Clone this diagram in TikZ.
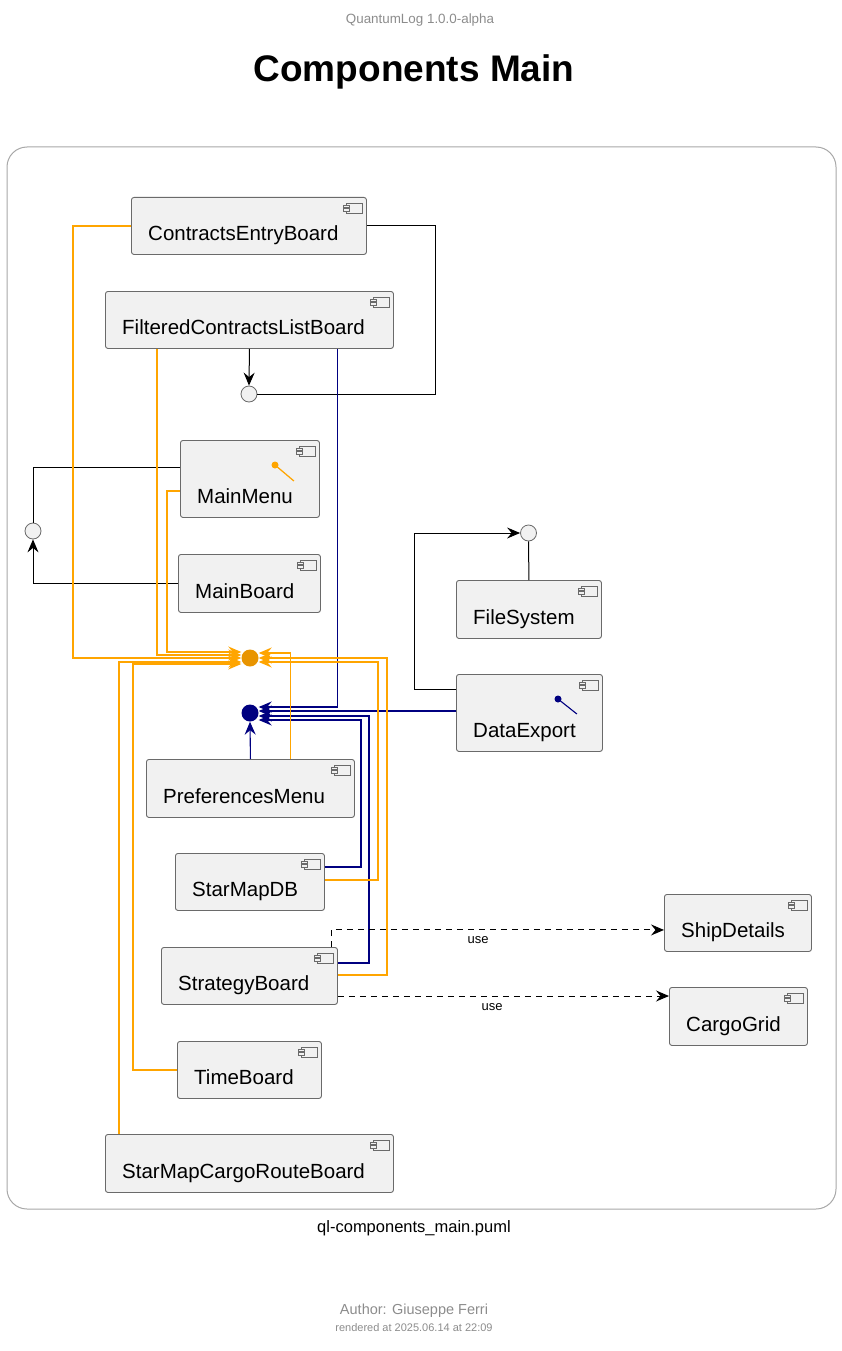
\documentclass[tikz,border=0pt]{standalone}
\usepackage{fontspec}
\setmainfont{Liberation Sans}
\usetikzlibrary{arrows.meta,calc}
\definecolor{boxfill}{HTML}{F1F1F1}
\definecolor{boxdraw}{HTML}{6A6A6A}
\definecolor{framecol}{HTML}{A8A8A8}
\definecolor{orangeline}{HTML}{FFA500}
\definecolor{orangeball}{HTML}{E89400}
\definecolor{navycol}{HTML}{000080}
\definecolor{graytext}{HTML}{8C8C8C}
\tikzset{
  compbox/.style={draw=boxdraw, fill=boxfill, line width=0.9pt, rounded corners=2.5pt, inner sep=0pt},
  comptext/.style={inner sep=0pt, font=\fontsize{20.5}{24}\selectfont},
  iconst/.style={draw=boxdraw, fill=boxfill, line width=0.7pt},
  iface/.style={circle, draw=boxdraw, fill=boxfill, line width=0.8pt, minimum size=16pt, inner sep=0pt},
  ball/.style={circle, minimum size=17pt, inner sep=0pt},
  arr/.style={-{Stealth[length=13pt,width=11pt,inset=4.5pt]}},
  bline/.style={draw=black, line width=1pt},
  nline/.style={draw=navycol, line width=1.1pt},
  oline/.style={draw=orangeline, line width=1.25pt},
  dline/.style={draw=black, line width=1pt, dash pattern=on 6pt off 5pt},
  uselabel/.style={inner sep=0pt, font=\fontsize{13}{15}\selectfont},
}
\newcommand{\qlcomp}[6]{%
  \node[compbox, anchor=north west, minimum width={(#4-#2)*1pt}, minimum height={(#5-#3)*1pt}] (#1) at (#2,#3) {};
  \node[comptext, anchor=base west] (#1-t) at (#2+17,#5-14) {#6};
  \draw[iconst] (#4-20,#3+6) rectangle (#4-4,#3+16);
  \draw[iconst] (#4-23,#3+8) rectangle (#4-17,#3+10.5);
  \draw[iconst] (#4-23,#3+11.5) rectangle (#4-17,#3+14);
}
\begin{document}
\begin{tikzpicture}[x=1pt,y=-1pt]
\useasboundingbox (0,0) rectangle (841,1351);
% header / footer
\node[text=graytext, font=\fontsize{13.4}{16}\selectfont, inner sep=0pt] (ver) at (420,20) {QuantumLog 1.0.0-alpha};
\node[font=\fontsize{37}{44}\selectfont\bfseries, inner sep=0pt] (title) at (414,72) {Components Main};
\node[font=\fontsize{16.5}{20}\selectfont, inner sep=0pt] (fname) at (414,1228) {ql-components\_main.puml};
\node[text=graytext, font=\fontsize{14.5}{17}\selectfont, inner sep=0pt] (author) at (414,1311) {Author: Giuseppe Ferri};
\node[text=graytext, font=\fontsize{11}{13}\selectfont, inner sep=0pt] (rendered) at (414,1328) {rendered at 2025.06.14 at 22:09};
% frame
\draw[draw=framecol, line width=1pt, rounded corners=20pt] (7,147) rectangle (836,1209);
% components
\qlcomp{ceb}{131}{197}{366}{254}{ContractsEntryBoard}
\qlcomp{fclb}{105}{291}{393}{348}{FilteredContractsListBoard}
\qlcomp{mm}{180}{440}{319}{517}{MainMenu}
\qlcomp{mb}{178}{554}{320}{612}{MainBoard}
\qlcomp{fs}{456}{580}{601}{638}{FileSystem}
\qlcomp{de}{456}{674}{602}{751}{DataExport}
\qlcomp{pm}{146}{759}{354}{817}{PreferencesMenu}
\qlcomp{smdb}{175}{853}{324}{910}{StarMapDB}
\qlcomp{sb}{161}{947}{337}{1004}{StrategyBoard}
\qlcomp{sd}{664}{894}{811}{951}{ShipDetails}
\qlcomp{cg}{669}{987}{807}{1045}{CargoGrid}
\qlcomp{tb}{177}{1041}{321}{1098}{TimeBoard}
\qlcomp{smcr}{105}{1134}{393}{1192}{StarMapCargoRouteBoard}
% provided-interface icons inside components
\node[circle, fill=orangeline, minimum size=7pt, inner sep=0pt] (mmball) at (275,465) {};
\draw[draw=orangeline, line width=1.25pt] (mmball.center) -- ($(mm.north east)+(-26,41)$);
\node[circle, fill=navycol, minimum size=7pt, inner sep=0pt] (deball) at (558,699) {};
\draw[nline] (deball.center) -- ($(de.north east)+(-26,40)$);
% interfaces
\node[iface] (i1) at (249,394) {};
\node[iface] (i2) at (33,531) {};
\node[iface] (i3) at (528.5,533) {};
\node[ball, fill=orangeball] (ob) at (250,658) {};
\node[ball, fill=navycol] (nb) at (250,713) {};
% black connectors
\draw[bline] (ceb.east) -| (435,394) -- (i1.east);
\draw[bline,arr] (fclb.south) -- (i1.north);
\draw[bline] ($(mm.north west)+(0,27)$) -| (i2.north);
\draw[bline,arr] (mb.west) -| (i2.south);
\draw[bline] (fs.north) -- (i3.south);
\draw[bline,arr] ($(de.north west)+(0,15)$) -| (414,533) -- (i3.west);
% navy connectors
\draw[nline,arr] ($(fclb.south east)+(-56,0)$) |- ($(nb.east)+(0,-6)$);
\draw[nline,arr] ($(de.north west)+(0,37)$) -- ($(nb.east)+(0,-2)$);
\draw[nline,arr] ($(sb.north east)+(0,16)$) -| (369,716) -- ($(nb.east)+(0,3)$);
\draw[nline,arr] ($(smdb.north east)+(0,14)$) -| (361,720) -- ($(nb.east)+(0,7)$);
\draw[nline,arr] (pm.north) -- (nb.south);
% orange connectors
\draw[oline,arr] (ceb.west) -| (73,658) -- (ob.west);
\draw[oline,arr] ($(fclb.south west)+(52,0)$) |- ($(ob.west)+(0,-3)$);
\draw[oline,arr] ($(mm.north west)+(0,51)$) -| (167,652) -- ($(ob.west)+(0,-6)$);
\draw[oline,arr] ($(smcr.north west)+(14,0)$) |- ($(ob.west)+(0,4)$);
\draw[oline,arr] (tb.west) -| (133,664) -- ($(ob.west)+(0,6)$);
\draw[oline,arr] ($(pm.north)+(40,0)$) |- ($(ob.east)+(0,-5)$);
\draw[oline,arr] ($(sb.north east)+(0,28)$) -| (387,658) -- (ob.east);
\draw[oline,arr] ($(smdb.north east)+(0,27)$) -| (378,662) -- ($(ob.east)+(0,4)$);
% dashed use connectors
\draw[dline,arr] ($(sb.north west)+(170,0)$) |- ($(sd.west)+(0,7)$);
\node[uselabel] (use1) at (478,940) {use};
\draw[dline,arr] ($(sb.north east)+(0,49)$) -- ($(cg.north west)+(0,9)$);
\node[uselabel] (use2) at (492,1007) {use};
\end{tikzpicture}
\end{document}
